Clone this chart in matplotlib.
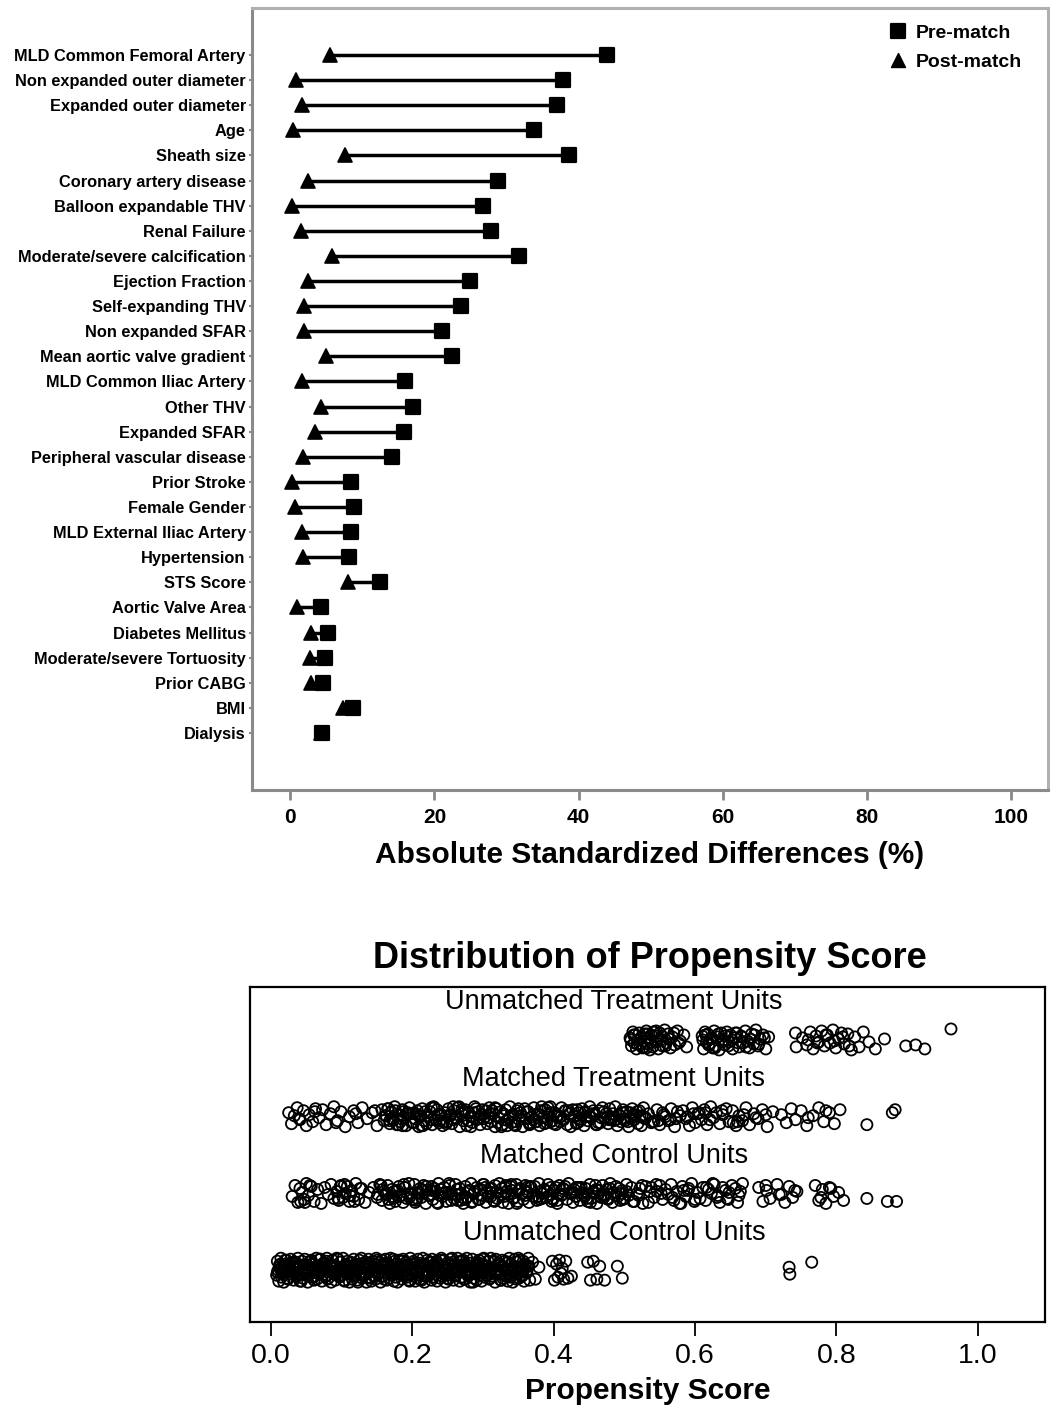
import matplotlib
matplotlib.use("Agg")
import matplotlib.pyplot as plt
from matplotlib.lines import Line2D
from matplotlib.markers import MarkerStyle
from matplotlib.ticker import FormatStrFormatter
from matplotlib import font_manager

plt.rcParams['font.family'] = ['Liberation Sans', 'DejaVu Sans']

# ---- top panel: absolute standardized differences (%) ----
covariates = [
    "MLD Common Femoral Artery", "Non expanded outer diameter", "Expanded outer diameter",
    "Age", "Sheath size", "Coronary artery disease", "Balloon expandable THV",
    "Renal Failure", "Moderate/severe calcification", "Ejection Fraction",
    "Self-expanding THV", "Non expanded SFAR", "Mean aortic valve gradient",
    "MLD Common Iliac Artery", "Other THV", "Expanded SFAR", "Peripheral vascular disease",
    "Prior Stroke", "Female Gender", "MLD External Iliac Artery", "Hypertension",
    "STS Score", "Aortic Valve Area", "Diabetes Mellitus", "Moderate/severe Tortuosity",
    "Prior CABG", "BMI", "Dialysis",
]
pre_match = [43.9, 37.8, 37.0, 33.8, 38.6, 28.8, 26.7, 27.8, 31.7, 24.9,
             23.7, 21.1, 22.4, 15.9, 17.0, 15.8, 14.1, 8.4, 8.9, 8.4,
             8.2, 12.5, 4.3, 5.3, 4.8, 4.6, 8.7, 4.4]
post_match = [5.5, 0.8, 1.7, 0.4, 7.6, 2.4, 0.3, 1.5, 5.8, 2.4,
              1.9, 1.9, 5.0, 1.7, 4.3, 3.5, 1.8, 0.3, 0.6, 1.7,
              1.8, 8.0, 1.0, 2.9, 2.8, 2.9, 7.3, 4.3]
diff_ticks = [0, 20, 40, 60, 80, 100]

# ---- bottom panel: propensity scores (per mille) and vertical jitter (1/100 row) ----
ut_score = [
    508, 510, 512, 514, 515, 517, 519, 521, 522, 524,
    526, 528, 529, 531, 533, 535, 536, 538, 540, 542,
    544, 546, 548, 550, 552, 554, 557, 559, 562, 565,
    568, 571, 575, 579, 584, 588, 610, 612, 614, 616,
    618, 620, 622, 625, 627, 629, 632, 634, 637, 640,
    642, 645, 648, 650, 653, 656, 659, 662, 665, 668,
    671, 674, 677, 680, 683, 686, 689, 692, 696, 700,
    704, 742, 743, 752, 758, 763, 767, 771, 775, 779,
    783, 787, 791, 795, 799, 803, 807, 811, 816, 821,
    826, 832, 838, 846, 855, 868, 898, 912, 925, 962,
    509, 513, 518, 523, 527, 532, 537, 541, 547, 553,
    558, 563, 570, 577, 611, 615, 619, 623, 628, 633,
    638, 643, 647, 652, 657, 661, 666, 672, 678, 684,
    690, 698, 760, 773, 785, 797, 809, 818, 531, 545,
]
ut_jitter = [
    2, -6, 8, -3, 5, -9, 0, 7, -5, 3,
    -8, 6, -1, 9, -4, 1, -10, 5, -7, 8,
    -2, 4, -9, 7, 0, -6, 10, -3, 6, -8,
    3, -5, 9, -1, 5, -7, 4, -9, 8, -2,
    6, -4, 1, -8, 9, -6, 3, -10, 7, 0,
    -5, 8, -2, 5, -9, 2, 7, -7, 4, -3,
    9, -1, -8, 6, -4, 10, -6, 1, 5, -9,
    3, 7, -7, 2, -5, 8, -9, 4, -2, 9,
    -6, 5, -3, 10, -8, 1, 7, -4, 6, -10,
    3, -7, 8, -2, -9, 1, -6, -5, -9, 11,
    0, 5, -4, 2, -7, 6, -2, 8, -1, 4,
    -6, 1, 7, -3, 0, 5, -5, 2, -8, 6,
    -2, 4, -6, 0, 7, -3, 3, -7, 1, 5,
    -4, 2, 0, -3, 5, -1, 3, -6, -8, 9,
]
mt_score = [
    25, 29, 33, 37, 41, 46, 50, 54, 59, 63,
    68, 73, 78, 84, 89, 94, 99, 105, 111, 117,
    123, 129, 136, 143, 150, 157, 160, 163, 165, 168,
    170, 173, 175, 178, 181, 183, 186, 188, 191, 194,
    196, 199, 201, 204, 207, 209, 212, 214, 217, 220,
    222, 225, 228, 230, 233, 235, 238, 241, 243, 246,
    249, 251, 254, 256, 259, 262, 264, 267, 270, 272,
    275, 277, 280, 283, 285, 288, 291, 293, 296, 298,
    301, 304, 306, 309, 311, 314, 317, 319, 322, 325,
    327, 330, 332, 335, 338, 340, 343, 346, 348, 351,
    353, 356, 359, 361, 364, 367, 369, 372, 374, 377,
    380, 382, 385, 388, 390, 393, 395, 398, 401, 403,
    406, 409, 411, 414, 416, 419, 422, 424, 427, 430,
    432, 435, 437, 440, 443, 445, 448, 451, 453, 456,
    458, 461, 464, 466, 469, 472, 474, 477, 479, 482,
    485, 487, 490, 493, 495, 498, 500, 503, 506, 508,
    511, 514, 516, 519, 521, 524, 527, 530, 534, 538,
    542, 546, 550, 554, 558, 562, 566, 571, 575, 579,
    583, 587, 592, 596, 600, 604, 609, 613, 617, 622,
    626, 630, 635, 639, 644, 648, 653, 658, 662, 667,
    672, 677, 683, 689, 695, 702, 710, 722, 729, 736,
    742, 750, 758, 767, 775, 782, 790, 797, 805, 843,
    162, 168, 176, 184, 192, 202, 210, 218, 227, 236,
    244, 253, 261, 270, 279, 287, 295, 303, 313, 321,
    329, 337, 345, 354, 362, 371, 379, 387, 396, 404,
    413, 421, 429, 438, 446, 455, 463, 471, 480, 488,
    497, 505, 513, 522, 529, 166, 180, 197, 213, 231,
    248, 266, 283, 299, 317, 334, 350, 366, 383, 400,
    417, 434, 450, 467, 484, 501, 518, 540, 556, 573,
    589, 606, 621, 638, 654, 669, 686, 171, 205, 239,
    274, 308, 342, 376, 410, 444, 478, 512, 548, 598,
    40, 62, 92, 120, 147, 186, 258, 326, 392, 460,
    525, 565, 615, 660, 700, 760, 785, 215, 290, 365,
    433, 492, 344, 258, 187, 452, 396, 310, 227, 509,
    879, 883,
]
mt_jitter = [
    4, -7, 1, 9, -3, 6, -9, 2, -5, 8,
    -1, 7, -8, 3, 10, -4, 5, -10, 0, 6,
    -6, 9, -2, 4, -9, 7, -4, 1, 8, -7,
    5, -3, 10, -8, 2, -5, 7, -1, -9, 4,
    9, -6, 3, -2, 6, -10, 1, 8, -4, -7,
    0, 5, -8, 10, -3, 7, -6, 2, -9, 4,
    -5, 8, 1, -7, 6, -2, 9, -10, 3, -4,
    7, -9, 4, 0, -6, 10, -3, 5, -8, 2,
    -2, 6, -7, 9, -5, 3, -10, 8, -1, 5,
    -8, 1, 7, -4, 10, -6, 2, -9, 6, -3,
    4, -10, 8, -2, 5, -7, 0, 9, -5, 3,
    -9, 6, -1, 7, -6, 2, 10, -4, 4, -8,
    1, -5, 9, -3, 6, -8, 3, -10, 7, 0,
    -7, 4, -2, 8, -9, 5, -4, 10, -1, 6,
    2, -8, 6, -6, 9, -1, 3, -7, 8, -3,
    -4, 10, -9, 1, -5, 7, -2, 5, -10, 4,
    8, -3, 2, -7, 6, -9, 9, -1, 3, -6,
    -5, 7, -8, 4, 0, -4, 8, -10, 5, 1,
    6, -2, -9, 9, -6, 3, -3, 7, -8, 10,
    -1, 4, -7, 2, 8, -5, 6, -9, 1, -4,
    9, -8, 3, -2, 7, -10, 5, 2, -6, 8,
    -3, 6, -9, 1, 9, -5, 4, -7, 7, -8,
    1, -4, 6, -2, 3, -6, 0, 5, -3, 2,
    -5, 2, -1, 7, -4, 4, -2, 0, 6, -6,
    3, -1, -5, 1, 5, -3, 2, -7, 4, 0,
    -2, 6, 1, -4, 0, 3, -6, 5, -1, -3,
    4, -5, 2, 0, -2, 8, -8, 3, -9, 9,
    -7, 10, -10, 7, 9, -9, 8, -8, 10, -7,
    6, -6, 1, -1, 3, -4, 5, -5, 2, -2,
    0, 4, -3, 6, -6, 2, -1, -2, 3, -4,
    5, -1, 2, -5, 0, 4, -3, 1, -4, 3,
    -2, 5, -6, 3, 6, -9, 10, -10, 9, -8,
    1, -3, 4, -5, 2, -1, 6, -9, 8, -6,
    7, 2, -8, -3, 5, 0, -5, 3, 9, -2,
    4, 7,
]
mc_score = [
    30, 34, 38, 41, 44, 47, 50, 53, 57, 61,
    66, 71, 76, 81, 85, 89, 93, 96, 99, 102,
    105, 108, 111, 114, 117, 120, 124, 128, 133, 139,
    145, 150, 154, 157, 160, 163, 165, 168, 171, 173,
    176, 179, 181, 184, 187, 189, 192, 195, 197, 200,
    203, 205, 208, 211, 213, 216, 219, 221, 224, 227,
    229, 232, 235, 237, 240, 243, 245, 248, 251, 253,
    256, 259, 261, 264, 267, 269, 272, 275, 277, 280,
    283, 285, 288, 291, 293, 296, 299, 301, 304, 307,
    309, 312, 315, 317, 320, 323, 325, 328, 331, 333,
    336, 339, 341, 344, 347, 349, 352, 355, 357, 360,
    363, 365, 368, 371, 373, 376, 379, 381, 384, 387,
    389, 392, 395, 397, 400, 403, 405, 408, 411, 413,
    416, 419, 421, 424, 427, 429, 432, 435, 437, 440,
    443, 445, 448, 451, 453, 456, 459, 461, 464, 467,
    469, 472, 475, 477, 480, 483, 485, 488, 491, 494,
    497, 500, 503, 506, 510, 514, 518, 522, 526, 530,
    534, 538, 542, 546, 550, 554, 558, 562, 566, 570,
    574, 578, 582, 587, 591, 595, 599, 603, 607, 611,
    615, 619, 623, 627, 631, 635, 639, 643, 647, 652,
    657, 662, 667, 690, 696, 701, 706, 716, 722, 727,
    733, 738, 744, 770, 775, 780, 785, 790, 796, 803,
    151, 158, 166, 174, 182, 190, 199, 207, 215, 223,
    231, 239, 247, 255, 263, 271, 279, 287, 295, 303,
    311, 319, 327, 335, 343, 351, 359, 367, 375, 383,
    391, 399, 407, 415, 423, 431, 439, 447, 455, 463,
    471, 479, 487, 495, 503, 512, 156, 172, 188, 204,
    220, 236, 252, 268, 284, 300, 316, 332, 348, 364,
    380, 396, 412, 428, 444, 460, 476, 492, 520, 536,
    552, 568, 584, 600, 616, 632, 648, 664, 42, 55,
    95, 104, 112, 126, 162, 196, 228, 262, 296, 330,
    362, 398, 432, 466, 498, 545, 580, 625, 660, 700,
    719, 741, 778, 792, 48, 98, 118, 210, 275, 340,
    405, 470, 525, 590, 645, 244, 312, 378, 452, 177,
    810, 843, 872, 885,
]
mc_jitter = [
    -3, 8, -9, 5, 1, -6, 10, -2, 7, -8,
    4, -10, 6, -1, 9, -5, 2, -7, 8, -4,
    0, 7, -8, 3, -3, 10, -6, 5, -9, 1,
    6, -4, 9, -7, 2, -1, 8, -10, 4, -5,
    -8, 3, 7, -2, -9, 6, -5, 10, 0, -6,
    9, -7, 1, 5, -4, 8, -10, 3, -2, 7,
    -6, 2, -9, 10, 4, -3, 6, -8, 1, 8,
    -1, -5, 9, -7, 5, 0, -10, 7, -4, 3,
    10, -8, 2, 6, -6, 4, -2, 9, -9, -3,
    5, 1, -7, 8, -5, 10, -1, -9, 6, 2,
    -10, 7, 3, -4, 9, -8, 5, 0, -6, 8,
    1, -9, 6, -3, 7, -7, 10, 2, -5, 4,
    -4, 9, -1, -8, 3, 6, -10, 8, -2, 5,
    7, -6, 10, 1, -9, 4, -3, 6, -7, 0,
    -2, 5, -8, 9, -5, 2, 8, -10, 3, -4,
    8, -1, 4, -6, 10, -9, 1, 7, -3, -7,
    3, -5, 9, -2, 6, -8, 0, 5, -10, 7,
    -9, 6, -4, 2, 8, -6, 4, -1, 9, -7,
    2, -10, 7, -3, 5, 10, -8, 1, -5, 6,
    -7, 4, 0, 9, -4, -9, 6, 3, -6, 8,
    5, -2, 10, 6, -8, 3, -5, 9, -1, -9,
    7, -4, 2, 8, -7, 4, -10, 6, -3, 1,
    -1, 4, -6, 2, -3, 6, 0, -5, 3, -2,
    5, -2, 1, -7, 4, -4, 2, 0, -6, 6,
    -3, 1, 5, -1, -5, 3, -2, 7, -4, 0,
    2, -6, -1, 4, 0, -3, 6, -5, 1, 3,
    -4, 5, -2, 0, 2, -8, 8, -3, 9, -9,
    7, -10, 10, -7, -9, 9, -8, 8, -10, 7,
    -6, 6, -1, 1, -3, 4, -5, 5, -2, 2,
    0, -4, 3, -6, 6, -2, 1, 2, -8, 8,
    -5, 9, -2, 5, 0, -4, 3, -1, 4, -3,
    2, -5, 6, -3, -6, 9, -10, 10, -9, 8,
    -1, 3, -4, 5, -9, 7, -8, 1, -6, 9,
    -7, -2, 8, 3, -5, 0, 5, -3, -9, 2,
    -7, -5, -8, -8,
]
uc_score = [
    8, 9, 11, 12, 14, 15, 17, 18, 19, 21,
    22, 24, 25, 27, 28, 29, 31, 32, 34, 35,
    37, 38, 39, 41, 42, 44, 45, 47, 48, 49,
    51, 52, 54, 55, 57, 58, 59, 61, 62, 64,
    65, 67, 68, 69, 71, 72, 74, 75, 77, 78,
    79, 81, 82, 84, 85, 87, 88, 89, 91, 92,
    94, 95, 97, 98, 99, 101, 102, 104, 105, 107,
    108, 109, 111, 112, 114, 115, 117, 118, 119, 121,
    122, 124, 125, 127, 128, 129, 131, 132, 134, 135,
    137, 138, 139, 141, 142, 144, 145, 147, 148, 149,
    151, 152, 154, 155, 157, 158, 159, 161, 162, 164,
    165, 167, 168, 169, 171, 172, 174, 175, 177, 178,
    179, 181, 182, 184, 185, 187, 188, 189, 191, 192,
    194, 195, 197, 198, 199, 201, 202, 204, 205, 207,
    208, 209, 211, 212, 214, 215, 217, 218, 219, 221,
    222, 224, 225, 227, 228, 229, 231, 232, 234, 235,
    237, 238, 239, 241, 242, 244, 245, 247, 248, 249,
    251, 252, 254, 255, 257, 258, 259, 261, 262, 264,
    265, 267, 268, 269, 271, 272, 274, 275, 277, 278,
    279, 281, 282, 284, 285, 287, 288, 289, 291, 292,
    294, 295, 297, 298, 299, 301, 302, 304, 305, 307,
    308, 309, 311, 312, 314, 315, 317, 318, 319, 321,
    322, 324, 325, 327, 328, 329, 331, 332, 334, 335,
    337, 338, 339, 341, 342, 344, 345, 347, 348, 349,
    351, 352, 354, 355, 357, 358, 360, 362, 364, 366,
    370, 374, 379, 398, 401, 404, 406, 408, 410, 412,
    414, 417, 420, 425, 448, 452, 456, 461, 465, 472,
    10, 13, 16, 20, 23, 26, 30, 33, 36, 40,
    43, 46, 50, 53, 56, 60, 63, 66, 70, 73,
    76, 80, 83, 86, 90, 93, 96, 100, 103, 106,
    110, 113, 116, 120, 123, 126, 130, 133, 136, 140,
    143, 146, 150, 153, 156, 160, 163, 166, 170, 173,
    176, 180, 183, 186, 190, 193, 196, 200, 203, 206,
    210, 213, 216, 220, 223, 226, 230, 233, 236, 240,
    243, 246, 250, 253, 256, 260, 263, 266, 270, 273,
    276, 280, 283, 286, 290, 293, 296, 300, 303, 306,
    310, 313, 316, 320, 323, 326, 330, 333, 336, 340,
    343, 346, 350, 353, 356, 359, 361, 363, 16, 27,
    44, 58, 73, 88, 104, 119, 133, 148, 163, 178,
    193, 208, 222, 237, 252, 266, 281, 296, 311, 326,
    12, 20, 31, 39, 52, 60, 70, 79, 91, 100,
    112, 121, 131, 139, 152, 160, 171, 180, 189, 201,
    211, 220, 230, 241, 250, 261, 270, 281, 290, 301,
    310, 321, 331, 341, 350, 13, 26, 36, 47, 57,
    69, 80, 92, 103, 113, 124, 135, 146, 158, 169,
    181, 192, 203, 214, 226, 238, 249, 260, 271, 283,
    294, 305, 316, 327, 338, 349, 357, 9, 365, 355,
    490, 497, 733, 734, 765,
]
uc_jitter = [
    -5, 9, -11, 3, 12, -7, 1, -12, 6, -2,
    10, -9, 4, -4, 11, -1, 7, -10, 2, 8,
    -6, 12, -3, -11, 5, 9, -8, 0, 11, -5,
    3, -12, 8, -2, 10, -7, 6, -10, 1, 12,
    -9, 4, -4, 11, -1, -11, 7, 2, -6, 9,
    12, -8, 0, 6, -12, 10, -3, 5, -10, 3,
    -1, 11, -7, 8, -5, 1, 12, -11, 4, -4,
    9, -2, -12, 7, 2, -9, 11, -6, 6, -1,
    -10, 5, 10, -5, 12, -8, 3, -3, 8, -12,
    1, 11, -7, 4, -11, 9, -1, 6, -9, 12,
    -4, 2, 8, -12, 10, -6, 5, -2, 11, -10,
    7, -8, 0, 12, -5, 3, -11, 9, -3, 6,
    -12, 10, -1, 4, -9, 11, -6, 1, 8, -7,
    3, -10, 12, -4, 6, -2, 9, -11, 2, -8,
    11, -5, -9, 7, -1, 12, -12, 5, -6, 10,
    -3, 8, 2, -10, 11, -7, 4, -4, 9, -11,
    6, -1, -8, 12, -6, 3, 10, -12, 1, 7,
    -9, 5, 11, -3, 8, -10, 0, 6, -5, 12,
    2, -11, 9, -7, 4, 10, -2, -9, 12, -4,
    -6, 7, -12, 3, 11, -8, 5, -1, -10, 8,
    10, -3, 1, -11, 6, 12, -7, 4, -5, 9,
    -2, -9, 12, -6, 2, 8, -12, 11, -1, 5,
    7, -4, -10, 10, -8, 3, 9, -5, 1, -11,
    12, -7, 6, -1, -12, 4, 11, -9, 8, -3,
    -8, 10, 2, -6, 9, -11, 5, -2, 12, -10,
    8, -9, 3, 9, -10, 6, -7, 10, -3, 2,
    -9, 9, -8, -6, 8, -10, 9, -9, 4, -10,
    0, 6, -3, 10, -8, 4, -1, 8, -6, 2,
    -11, 5, -4, 1, 9, -7, 3, -2, 11, -5,
    7, -9, 0, 4, -3, 12, -6, 2, -10, 6,
    -1, 8, -5, 3, -12, 1, 7, -4, 5, -8,
    2, -6, 10, -2, 4, -9, 0, 6, -3, 11,
    -7, 3, -1, 9, -5, 5, -11, 1, 7, -2,
    4, -10, 6, 0, -4, 8, -7, 3, -1, 10,
    -3, 1, -8, 5, 12, -6, 2, -2, 9, -9,
    6, -4, 3, -12, 0, 7, -5, 11, -1, 4,
    -8, 2, 9, -3, 5, -10, 1, -6, 8, 0,
    3, -7, 12, -1, -5, 6, -2, 4, -4, 7,
    1, -3, 5, -1, 3, -5, 2, -2, 6, 0,
    -4, 4, -6, 1, -2, 5, -3, 2, 0, -1,
    5, -2, 3, -4, 1, -6, 4, 0, -3, 2,
    -1, 6, -5, 2, -2, 3, 0, -4, 5, -6,
    3, -3, 1, 4, -5, 0, 2, -1, 6, -2,
    -4, 5, 0, -6, 3, 1, -2, 4, -3, 6,
    2, -5, 4, -1, 0, 5, -4, 3, -6, 1,
    -2, 1, 6, -3, 4, -1, -5, 2, 0, -4,
    5, 0, -3, 3, -6, 2, 1, -2, 4, -1,
    4, -8, 3, -4, 8,
]
group_names = ["Unmatched Treatment Units", "Matched Treatment Units",
               "Matched Control Units", "Unmatched Control Units"]
group_scores = [ut_score, mt_score, mc_score, uc_score]
group_jitter = [ut_jitter, mt_jitter, mc_jitter, uc_jitter]
ps_ticks = [0.0, 0.2, 0.4, 0.6, 0.8, 1.0]

installed = {f.name for f in font_manager.fontManager.ttflist}
if 'Liberation Sans Narrow' in installed:
    ps_font, ps_scale = ['Liberation Sans Narrow', 'DejaVu Sans'], 1.2
else:
    ps_font, ps_scale = ['Liberation Sans', 'DejaVu Sans'], 1.0

W, H = 1050, 1413
fig = plt.figure(figsize=(W / 100, H / 100), dpi=100)

# ================= top panel =================
ax1 = fig.add_axes([252 / W, 1 - 790 / H, (1048 - 252) / W, (790 - 8) / H])
rows = list(range(len(covariates)))
for r, a, b in zip(rows, post_match, pre_match):
    ax1.plot([a, b], [r, r], color='black', lw=2.5, solid_capstyle='butt', zorder=2)
tri = MarkerStyle('^', joinstyle='round')
sq = MarkerStyle('s', joinstyle='round')
ax1.plot(post_match, rows, ls='none', marker=tri, ms=10, color='black', mew=1.2, zorder=3)
ax1.plot(pre_match, rows, ls='none', marker=sq, ms=9.5, color='black', mew=1.6, zorder=4)

ax1.set_xlim(-5.3, 105.1)
ax1.set_ylim(29.27, -1.87)
ax1.set_xticks(diff_ticks)
ax1.set_xticklabels([str(t) for t in diff_ticks], fontsize=15, fontweight='bold')
ax1.set_yticks(rows)
ax1.set_yticklabels(covariates, fontsize=11.8, fontweight='bold')
ax1.tick_params(axis='y', length=2.5, width=1.5, color='#888888', pad=2)
ax1.tick_params(axis='x', length=7, width=2, color='#888888', direction='out', pad=6)
for side, sp in ax1.spines.items():
    sp.set_color('#8a8a8a')
    sp.set_linewidth(2.2)
ax1.spines['top'].set_color('#b0b0b0')
ax1.spines['right'].set_color('#b0b0b0')
ax1.set_xlabel("Absolute Standardized Differences (%)", fontsize=21.5,
               fontweight='bold', labelpad=10)

handles = [Line2D([], [], ls='none', marker=sq, ms=9.5, color='black', mew=1.6),
           Line2D([], [], ls='none', marker=tri, ms=10, color='black')]
ax1.legend(handles, ["Pre-match", "Post-match"], loc='upper right', frameon=False,
           prop={'size': 14, 'weight': 'bold'}, handletextpad=0.45, labelspacing=0.6,
           borderaxespad=0.3, handlelength=1.0, bbox_to_anchor=(0.985, 0.997))

# ================= bottom panel =================
ax2 = fig.add_axes([250 / W, 1 - 1322 / H, (1045 - 250) / W, (1322 - 987) / H])
base = [4, 3, 2, 1]
for name, y0, sc, jt in zip(group_names, base, group_scores, group_jitter):
    n = min(len(sc), len(jt))
    xs = [s / 1000 for s in sc[:n]]
    ys = [y0 + 1.3 * j / 100 for j in jt[:n]]
    ax2.scatter(xs, ys, s=64, facecolors='none', edgecolors='black',
                linewidths=1.3, zorder=3)
    ax2.text(0.485, y0 + 0.49, name, ha='center', va='center',
             fontsize=19.5 * ps_scale, family=ps_font)

ax2.set_xlim(-0.0297, 1.095)
ax2.set_ylim(0.325, 4.69)
ax2.set_yticks([])
ax2.set_xticks(ps_ticks)
ax2.xaxis.set_major_formatter(FormatStrFormatter('%.1f'))
for lab in ax2.get_xticklabels():
    lab.set_fontsize(20.5 * ps_scale)
    lab.set_family(ps_font)
ax2.tick_params(axis='x', length=10, width=1.3, direction='out', pad=5)
for sp in ax2.spines.values():
    sp.set_linewidth(1.6)
ax2.set_xlabel("Propensity Score", fontsize=21.5, fontweight='bold', labelpad=6)
fig.text(650 / W, 1 - 958 / H, "Distribution of Propensity Score", ha='center',
         va='center', fontsize=26, fontweight='bold')

fig.savefig("out.png", dpi=100)
